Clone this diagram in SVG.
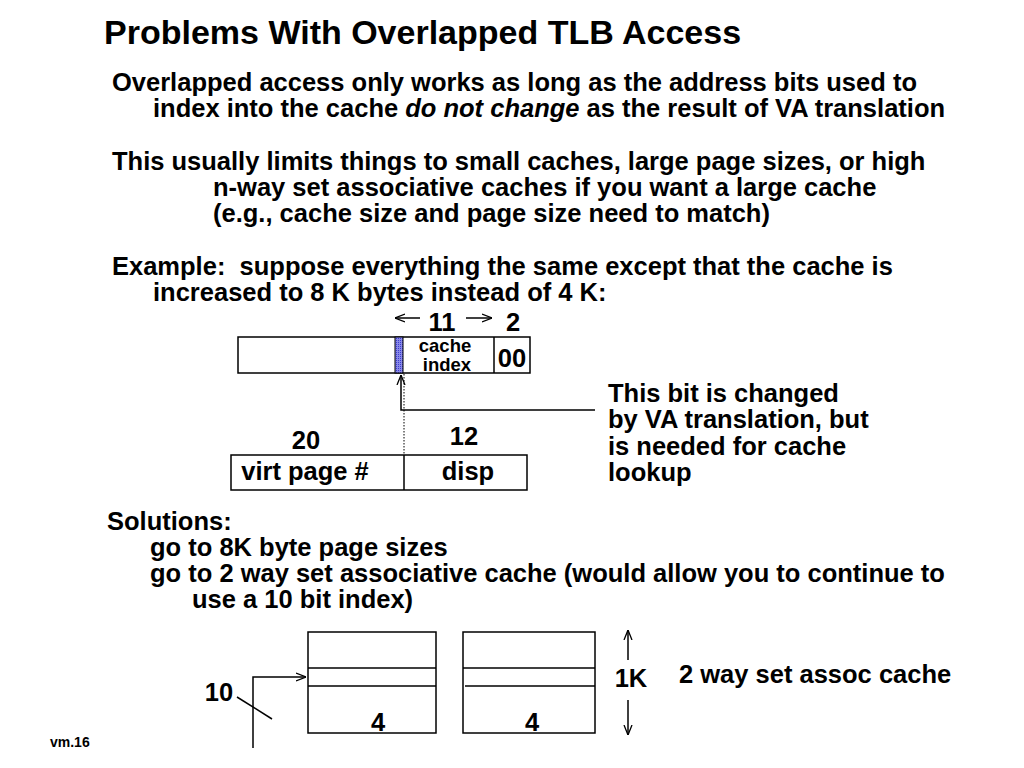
<svg xmlns="http://www.w3.org/2000/svg" width="1024" height="768" viewBox="0 0 1024 768">
<defs>
<style>
text{font-family:"Liberation Sans",Arial,sans-serif;font-weight:bold;fill:#000}
.t{font-size:34px}
.b{font-size:25.5px}
.s{font-size:18.5px}
.box{fill:#fff;stroke:#000;stroke-width:1.5}
.ln{stroke:#000;stroke-width:1.5;fill:none}
</style>
<marker id="ah" viewBox="0 0 10 10" refX="10" refY="5" markerWidth="10" markerHeight="10" orient="auto" markerUnits="userSpaceOnUse">
<path d="M0,1 L10,5 L0,9" fill="none" stroke="#000" stroke-width="1.3"/>
</marker>
<pattern id="hatch" width="2" height="2" patternUnits="userSpaceOnUse">
<rect width="2" height="2" fill="#8a8ae8"/>
<rect width="1" height="1" fill="#3b3bd0"/>
</pattern>
</defs>
<rect width="1024" height="768" fill="#fff"/>
<text class="t" x="104" y="44">Problems With Overlapped TLB Access</text>
<g id="text-body">
<text class="b" x="112" y="91">Overlapped access only works as long as the address bits used to</text>
<text class="b" x="153" y="117">index into the cache <tspan font-style="italic">do not change</tspan> as the result of VA translation</text>
<text class="b" x="112" y="170">This usually limits things to small caches, large page sizes, or high</text>
<text class="b" x="213" y="196">n-way set associative caches if you want a large cache</text>
<text class="b" x="213" y="222">(e.g., cache size and page size need to match)</text>
<text class="b" x="112" y="275" xml:space="preserve">Example:  suppose everything the same except that the cache is</text>
<text class="b" x="153" y="301">increased to 8 K bytes instead of 4 K:</text>
<text class="b" x="107" y="530">Solutions:</text>
<text class="b" x="150" y="556">go to 8K byte page sizes</text>
<text class="b" x="150" y="582">go to 2 way set associative cache (would allow you to continue to</text>
<text class="b" x="192" y="608">use a 10 bit index)</text>
</g>
<g id="physical-address">
<rect class="box" x="238" y="337" width="292" height="36"/>
<line class="ln" x1="494" y1="337" x2="494" y2="373"/>
<rect x="395" y="337" width="8" height="36" fill="url(#hatch)" stroke="#000" stroke-width="1"/>
<text class="s" x="445" y="352" text-anchor="middle">cache</text>
<text class="s" x="447" y="371" text-anchor="middle">index</text>
<text class="b" x="512" y="367" text-anchor="middle">00</text>
<text class="b" x="442" y="331" text-anchor="middle">11</text>
<text class="b" x="513" y="331" text-anchor="middle">2</text>
</g>
<g id="virtual-address">
<rect class="box" x="231" y="455" width="296" height="35"/>
<line class="ln" x1="404" y1="455" x2="404" y2="490"/>
<text class="b" x="305" y="480" text-anchor="middle">virt page #</text>
<text class="b" x="468" y="480" text-anchor="middle">disp</text>
<text class="b" x="306" y="449" text-anchor="middle">20</text>
<text class="b" x="464" y="445" text-anchor="middle">12</text>
</g>
<g id="note">
<text class="b" x="608" y="402">This bit is changed</text>
<text class="b" x="608" y="428">by VA translation, but</text>
<text class="b" x="608" y="455">is needed for cache</text>
<text class="b" x="608" y="481">lookup</text>
</g>
<g id="cache-way-1">
<rect class="box" x="308" y="632" width="128" height="101"/>
<line class="ln" x1="308" y1="668" x2="436" y2="668"/>
<line class="ln" x1="308" y1="686" x2="436" y2="686"/>
<text class="b" x="378" y="731" text-anchor="middle">4</text>
</g>
<g id="cache-way-2">
<rect class="box" x="463" y="632" width="132" height="101"/>
<line class="ln" x1="463" y1="668" x2="595" y2="668"/>
<line class="ln" x1="465" y1="686" x2="595" y2="686"/>
<text class="b" x="532" y="731" text-anchor="middle">4</text>
</g>
<g id="labels">
<text class="b" x="219" y="701" text-anchor="middle">10</text>
<text class="b" x="631" y="687" text-anchor="middle">1K</text>
<text class="b" x="679" y="683">2 way set assoc cache</text>
<text x="50" y="747" font-size="14">vm.16</text>
</g>
<g id="connectors">
<line class="ln" x1="420" y1="318" x2="395" y2="318" marker-end="url(#ah)"/>
<line class="ln" x1="466" y1="318" x2="492" y2="318" marker-end="url(#ah)"/>
<line x1="404" y1="374" x2="404" y2="455" stroke="#000" stroke-width="1" stroke-dasharray="1.5,1.5"/>
<polyline class="ln" points="595,410 401,410 401,375" marker-end="url(#ah)"/>
<polyline class="ln" points="253,748 253,677 306,677" marker-end="url(#ah)"/>
<line class="ln" x1="237" y1="697" x2="272" y2="719"/>
<line class="ln" x1="628" y1="660" x2="628" y2="630" marker-end="url(#ah)"/>
<line class="ln" x1="628" y1="700" x2="628" y2="735" marker-end="url(#ah)"/>
</g>
</svg>
